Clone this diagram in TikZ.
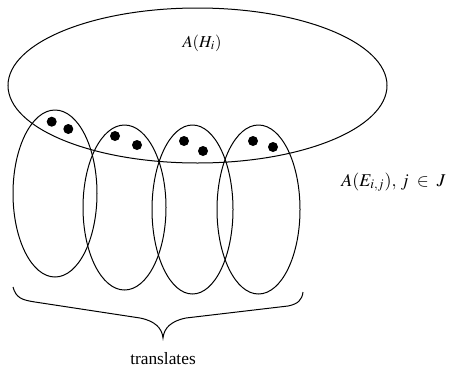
\documentclass[tikz,border=0pt]{standalone}
\usepackage{mathptmx}
\usepackage{fontspec}
\setmainfont{Liberation Serif}
\begin{document}
\begin{tikzpicture}[x=0.6pt,y=-0.6pt]
    \tikzstyle{ring} = [draw, line width=0.6pt]
    \tikzstyle{dot} = [fill=black]
    \tikzstyle{label} = [inner sep=0pt, font=\normalsize]
    \useasboundingbox (0,0) rectangle (450,367);

    % big set
    \draw [ring] (197.5,85.5) ellipse [x radius=189.5, y radius=77.5];
    \node [label] (AH) at (202,43) {$A(H_i)$};
    %
    % translates
    \draw [ring] (55,193.5) ellipse [x radius=42, y radius=83.5];
    \draw [ring] (124.5,207.5) ellipse [x radius=41.5, y radius=82.5];
    \draw [ring] (192.5,209.5) ellipse [x radius=40.5, y radius=84.5];
    \draw [ring] (258.5,209.5) ellipse [x radius=41.5, y radius=84.5];
    %
    \fill [dot] (51.7,121.7) circle [radius=5];
    \fill [dot] (68.3,129) circle [radius=5];
    \fill [dot] (115,136) circle [radius=5];
    \fill [dot] (137,145) circle [radius=5];
    \fill [dot] (184,141) circle [radius=5];
    \fill [dot] (203,151) circle [radius=5];
    \fill [dot] (253,141) circle [radius=5];
    \fill [dot] (273,147) circle [radius=5];
    %
    \node [label, anchor=west, scale=1.08] (AE) at (341,182) {$A(E_{i,j}),\, j \;\in\; J$};
    %
    % brace
    \coordinate (bl) at (13,287);
    \coordinate (bt) at (163,338);
    \coordinate (br) at (303,292);
    \draw [ring] (bl) .. controls (16,298) and (22,300) .. (35,302)
        -- (140,318) .. controls (155,321) and (162,328) .. (bt)
        .. controls (164,328) and (171,321) .. (186,318)
        -- (288,306) .. controls (298,304) and (302,300) .. (br);
    \node [label, below of=bt, node distance=12.5, scale=1.04] (tr) {translates};
\end{tikzpicture}
\end{document}
